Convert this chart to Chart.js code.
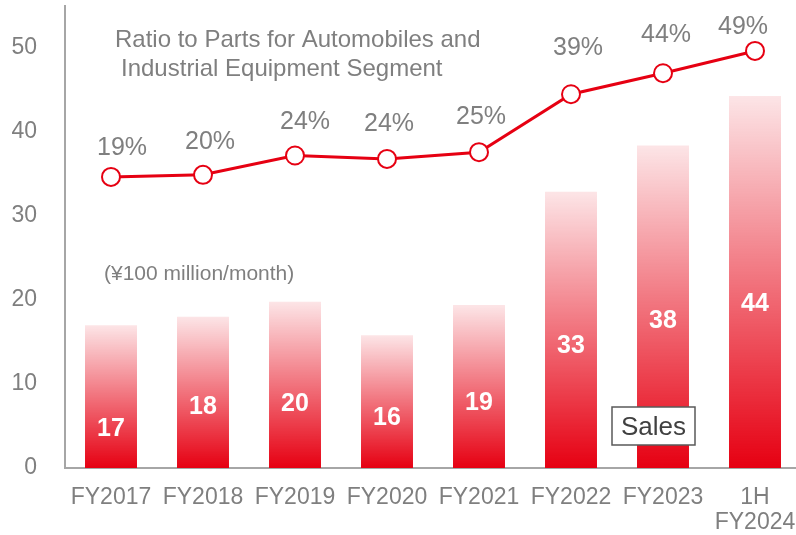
<!DOCTYPE html>
<html>
<head>
<meta charset="utf-8">
<script src="https://cdn.jsdelivr.net/npm/chart.js@4.4.0/dist/chart.umd.min.js"></script>
<style>
  html, body { margin: 0; padding: 0; background: #fff; overflow: hidden; }
  /* plot runs a few px past the right edge in the original */
  #wrap { width: 801px; height: 535px; }
</style>
</head>
<body>
<div id="wrap"><canvas id="myChart"></canvas></div>
<script>
// data
const categories = ["FY2017", "FY2018", "FY2019", "FY2020", "FY2021", "FY2022", "FY2023", ["1H", "FY2024"]];
const sales = [17.0, 18.0, 19.8, 15.8, 19.4, 32.9, 38.4, 44.3];   // ¥100 million/month
const ratio = [19.3, 19.8, 24.4, 23.6, 25.2, 39.0, 44.0, 49.3];   // %
const yTicks = [0, 10, 20, 30, 40, 50];

const red = "rgb(230, 0, 18)"
const grey = "#7f7f7f"
const fontFam = "'Liberation Sans', Arial, sans-serif"

// where the white value sits inside each bar (share of bar height from base)
const barLabelAt = [0.27, 0.40, 0.385, 0.376, 0.40, 0.44, 0.455, 0.44]
// nudges for the % labels above the points
const pctOffset = [[11, -29], [7, -33], [10, -33], [2, -35], [2, -35], [7, -46], [3, -38], [-12, -24]]

const labelsPlugin = {
    id: "labels",
    afterDatasetsDraw(chart) {
        const ctx = chart.ctx
        ctx.save()
        // bar values
        const barMeta = chart.getDatasetMeta(1)
        ctx.fillStyle = "#fff"
        ctx.font = "bold 25px " + fontFam
        ctx.textAlign = "center"
        ctx.textBaseline = "middle"
        barMeta.data.forEach((bar, i) => {
            const y = bar.base - (bar.base - bar.y) * barLabelAt[i]
            ctx.fillText(Math.round(sales[i]), bar.x, y)
        })
        // ratio labels
        const lineMeta = chart.getDatasetMeta(0)
        ctx.fillStyle = grey
        ctx.font = "25px " + fontFam
        lineMeta.data.forEach((pt, i) => {
            ctx.fillText(Math.round(ratio[i]) + "%", pt.x + pctOffset[i][0], pt.y + pctOffset[i][1])
        })
        // notes
        ctx.textAlign = "left"
        ctx.font = "24px " + fontFam
        ctx.fillText("Ratio to Parts for Automobiles and", 115, 40)
        ctx.fillText("Industrial Equipment Segment", 121, 69)
        ctx.font = "21px " + fontFam
        ctx.fillText("(¥100 million/month)", 104, 274)
        // Sales box
        ctx.fillStyle = "#fff"
        ctx.fillRect(612, 407, 83, 38)
        ctx.strokeStyle = "#595959"
        ctx.lineWidth = 1.5
        ctx.strokeRect(612, 407, 83, 38)
        ctx.fillStyle = "#404040"
        ctx.textAlign = "center"
        ctx.font = "26px " + fontFam
        ctx.fillText("Sales", 653.5, 428)
        ctx.restore()
    }
}

function barGradient(c) {
    const chart = c.chart
    if (!chart.chartArea || c.type !== "data") return red
    const y = chart.scales.y
    const top = y.getPixelForValue(c.raw)
    const base = y.getPixelForValue(0)
    const g = chart.ctx.createLinearGradient(0, base, 0, top)
    g.addColorStop(0, "rgba(230, 0, 18, 1)")
    g.addColorStop(1, "rgba(230, 0, 18, 0.1)")
    return g
}

const myChart = new Chart(document.getElementById("myChart").getContext("2d"), {
    data: {
        labels: categories,
        datasets: [
            {
                type: "line",
                data: ratio,
                yAxisID: "y1",
                borderColor: red,
                borderWidth: 3,
                pointRadius: 9,
                pointBorderWidth: 2,
                pointBorderColor: red,
                pointBackgroundColor: "#fff",
                tension: 0,
                clip: false,
                order: 0,
            },
            {
                type: "bar",
                data: sales,
                yAxisID: "y",
                backgroundColor: barGradient,
                categoryPercentage: 1,
                barPercentage: 0.565,
                order: 1,
            },
        ],
    },
    options: {
        responsive: true,
        maintainAspectRatio: false,
        animation: false,
        layout: { autoPadding: false, padding: { top: 6, right: 0, left: 0, bottom: 0 } },
        plugins: { legend: { display: false }, tooltip: { enabled: false } },
        scales: {
            x: {
                grid: { display: false, drawTicks: false },
                border: { color: "#a6a6a6", width: 2 },
                ticks: {
                    color: grey,
                    font: { family: fontFam, size: 23, lineHeight: 1.1 },
                    padding: 17,
                    maxRotation: 0,
                    autoSkip: false,
                },
                afterFit(scale) {
                    scale.height = 67
                    scale.paddingLeft = 0
                    scale.paddingRight = 0
                },
            },
            y: {
                min: 0,
                max: 55,
                grid: { display: false, drawTicks: false },
                border: { color: "#a6a6a6", width: 2 },
                ticks: {
                    color: grey,
                    font: { family: fontFam, size: 23 },
                    padding: 28,
                },
                afterBuildTicks(scale) { scale.ticks = yTicks.map(v => ({ value: v })) },
                afterFit(scale) {
                    scale.width = 65
                    scale.paddingTop = 0
                    scale.paddingBottom = 0
                },
            },
            y1: { display: false, min: -50, max: 60 },
        },
    },
    plugins: [labelsPlugin],
});
</script>
</body>
</html>
